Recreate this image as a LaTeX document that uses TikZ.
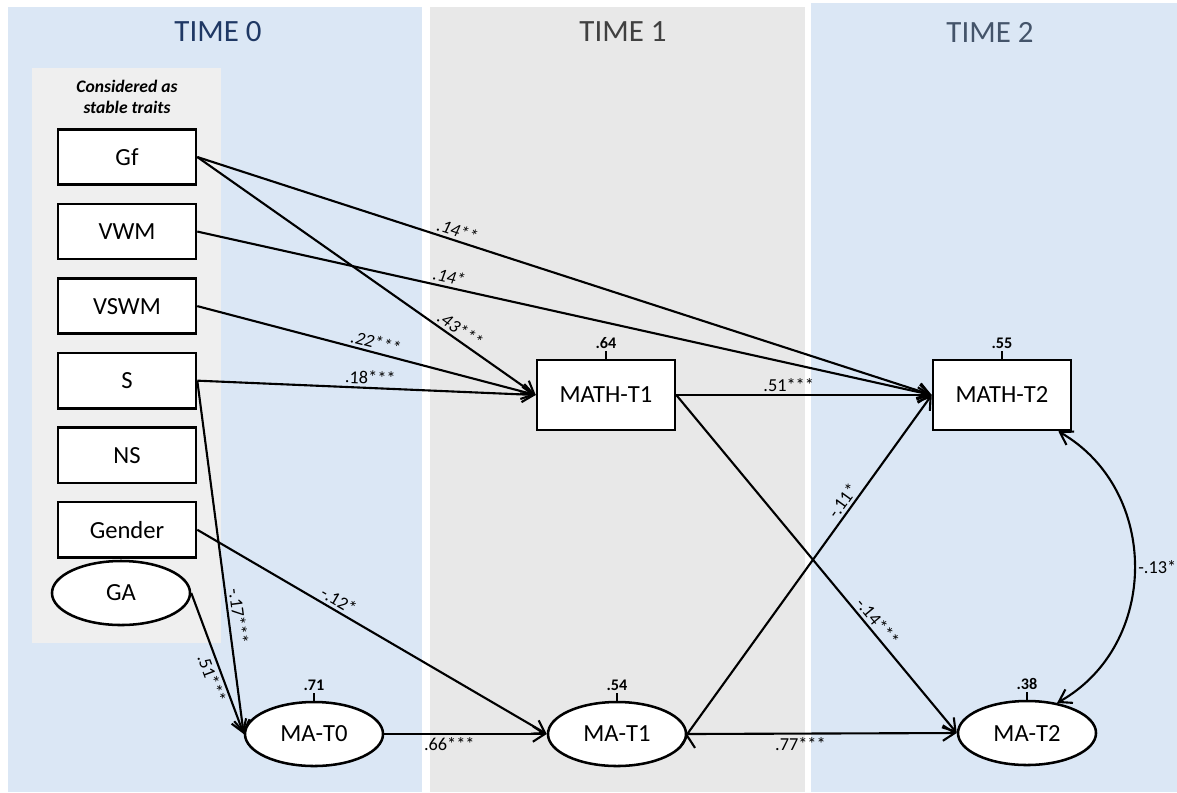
\documentclass[tikz,border=0pt]{standalone}
\usepackage{fontspec}
\setmainfont{Carlito}
\usepackage{xcolor}
\usepackage{tikz}
\usetikzlibrary{arrows.meta}
\usetikzlibrary{shapes.geometric, positioning}

\definecolor{paneblue}{RGB}{219,231,245}
\definecolor{panegray}{RGB}{232,232,232}
\definecolor{traitgray}{RGB}{239,239,239}
\definecolor{timeblue}{RGB}{31,56,100}
\definecolor{timegray}{RGB}{64,64,64}
\definecolor{timeslate}{RGB}{68,84,106}

\begin{document}
\begin{tikzpicture} [
	x=0.025cm, y=-0.025cm, % one unit is one pixel, y runs downwards
	->, % every path is directed
	>={Straight Barb[length=8.5pt, width=11pt]}, % open arrow heads
	line width=1.5pt,
	node distance=0.42cm, % gap between the trait boxes
	obs/.style={draw, line width=1.8pt, fill=white, minimum width=3.45cm, minimum height=1.38cm, font=\fontsize{17.5}{19}\selectfont}, % observed variables
	lat/.style={ellipse, draw, line width=1.8pt, fill=white, inner sep=0pt, minimum width=3.45cm, minimum height=1.6cm, font=\fontsize{17.5}{19}\selectfont}, % latent variables
	coef/.style={font=\fontsize{13}{15}\selectfont, inner sep=2pt}, % path coefficients
	resid/.style={font=\bfseries\fontsize{11.5}{13}\selectfont, inner sep=1pt}, % explained variance
	title/.style={font=\fontsize{22}{24}\selectfont},
	]
	\useasboundingbox (0,0) rectangle (1177,792);

	% time panels
	\fill[paneblue] (8,7) rectangle (422,792);
	\fill[panegray] (430,7) rectangle (805,792);
	\fill[paneblue] (811,3) rectangle (1177,792);
	\fill[traitgray] (32,68) rectangle (221,643);

	\node[title, text=timeblue] (t0) at (218,32) {TIME 0};
	\node[title, text=timegray] (t1) at (623,32) {TIME 1};
	\node[title, text=timeslate] (t2) at (990,32) {TIME 2};
	\node[align=center, font=\bfseries\itshape\fontsize{12.5}{15}\selectfont] (traits) at (127,97) {Considered as\\stable traits};

	% stable traits
	\node[obs] (gf) at (127,157) {Gf};
	\node[obs, below=of gf] (vwm) {VWM};
	\node[obs, below=of vwm] (vswm) {VSWM};
	\node[obs, below=of vswm] (s) {S};
	\node[obs, below=of s] (ns) {NS};
	\node[obs, below=of ns] (gender) {Gender};
	\node[lat] (ga) at (121,593) {GA};

	% outcomes
	\node[obs, minimum height=1.75cm] (math1) at (606,395) {MATH-T1};
	\node[obs, minimum height=1.75cm] (math2) at (1002,395) {MATH-T2};
	\node[lat] (ma0) at (314,734) {MA-T0};
	\node[lat] (ma1) at (617,734) {MA-T1};
	\node[lat] (ma2) at (1027,733) {MA-T2};

	% explained variance
	\node[resid, above=0.2cm of math1] (r1) {.64};
	\node[resid, above=0.2cm of math2] (r2) {.55};
	\node[resid, above=0.2cm of ma0] (r3) {.71};
	\node[resid, above=0.2cm of ma1] (r4) {.54};
	\node[resid, above=0.2cm of ma2] (r5) {.38};
	\draw[-] (math1) -- (r1);
	\draw[-] (math2) -- (r2);
	\draw[-] (ma0) -- (r3);
	\draw[-] (ma1) -- (r4);
	\draw[-] (ma2) -- (r5);

	\draw
		(gf.east) edge node[coef, pos=.35, sloped, above] {\textit{.14**}} (math2.west)
		(gf.east) edge node[coef, pos=.76, sloped, above] {\textit{.43***}} (math1.west)
		(vwm.east) edge node[coef, pos=.34, sloped, above] {\textit{.14*}} (math2.west)
		(vswm.east) edge node[coef, pos=.52, sloped, above] {\textit{.22***}} (math1.west)
		(s.east) edge node[coef, pos=.51, sloped, above] {.18***} (math1.west)

		(s.east) edge node[coef, pos=.67, sloped, above] {-.17***} (ma0.west)
		(ga.east) edge node[coef, pos=.58, sloped, below] {.51***} (ma0.west)
		(gender.east) edge node[coef, pos=.39, sloped, above] {-.12*} (ma1.west)

		(ma0.east) edge node[coef, pos=.4, below] {.66***} (ma1.west)
		(math1.east) edge node[coef, pos=.44, above] {.51***} (math2.west)
		(math1.east) edge node[coef, pos=.69, sloped, above] {-.14***} (ma2.west)
		(ma1.east) edge node[coef, pos=.67, sloped, above] {-.11*} (math2.west)
		(ma1.east) edge node[coef, pos=.42, below] {.77***} (ma2.west)
	;

	% residual covariance
	\draw[<->] ([xshift=-0.35cm]math2.south east) .. controls (1160,490) and (1160,645) .. (ma2.45)
		node[coef, pos=.5, right] {-.13*};
\end{tikzpicture}
\end{document}
